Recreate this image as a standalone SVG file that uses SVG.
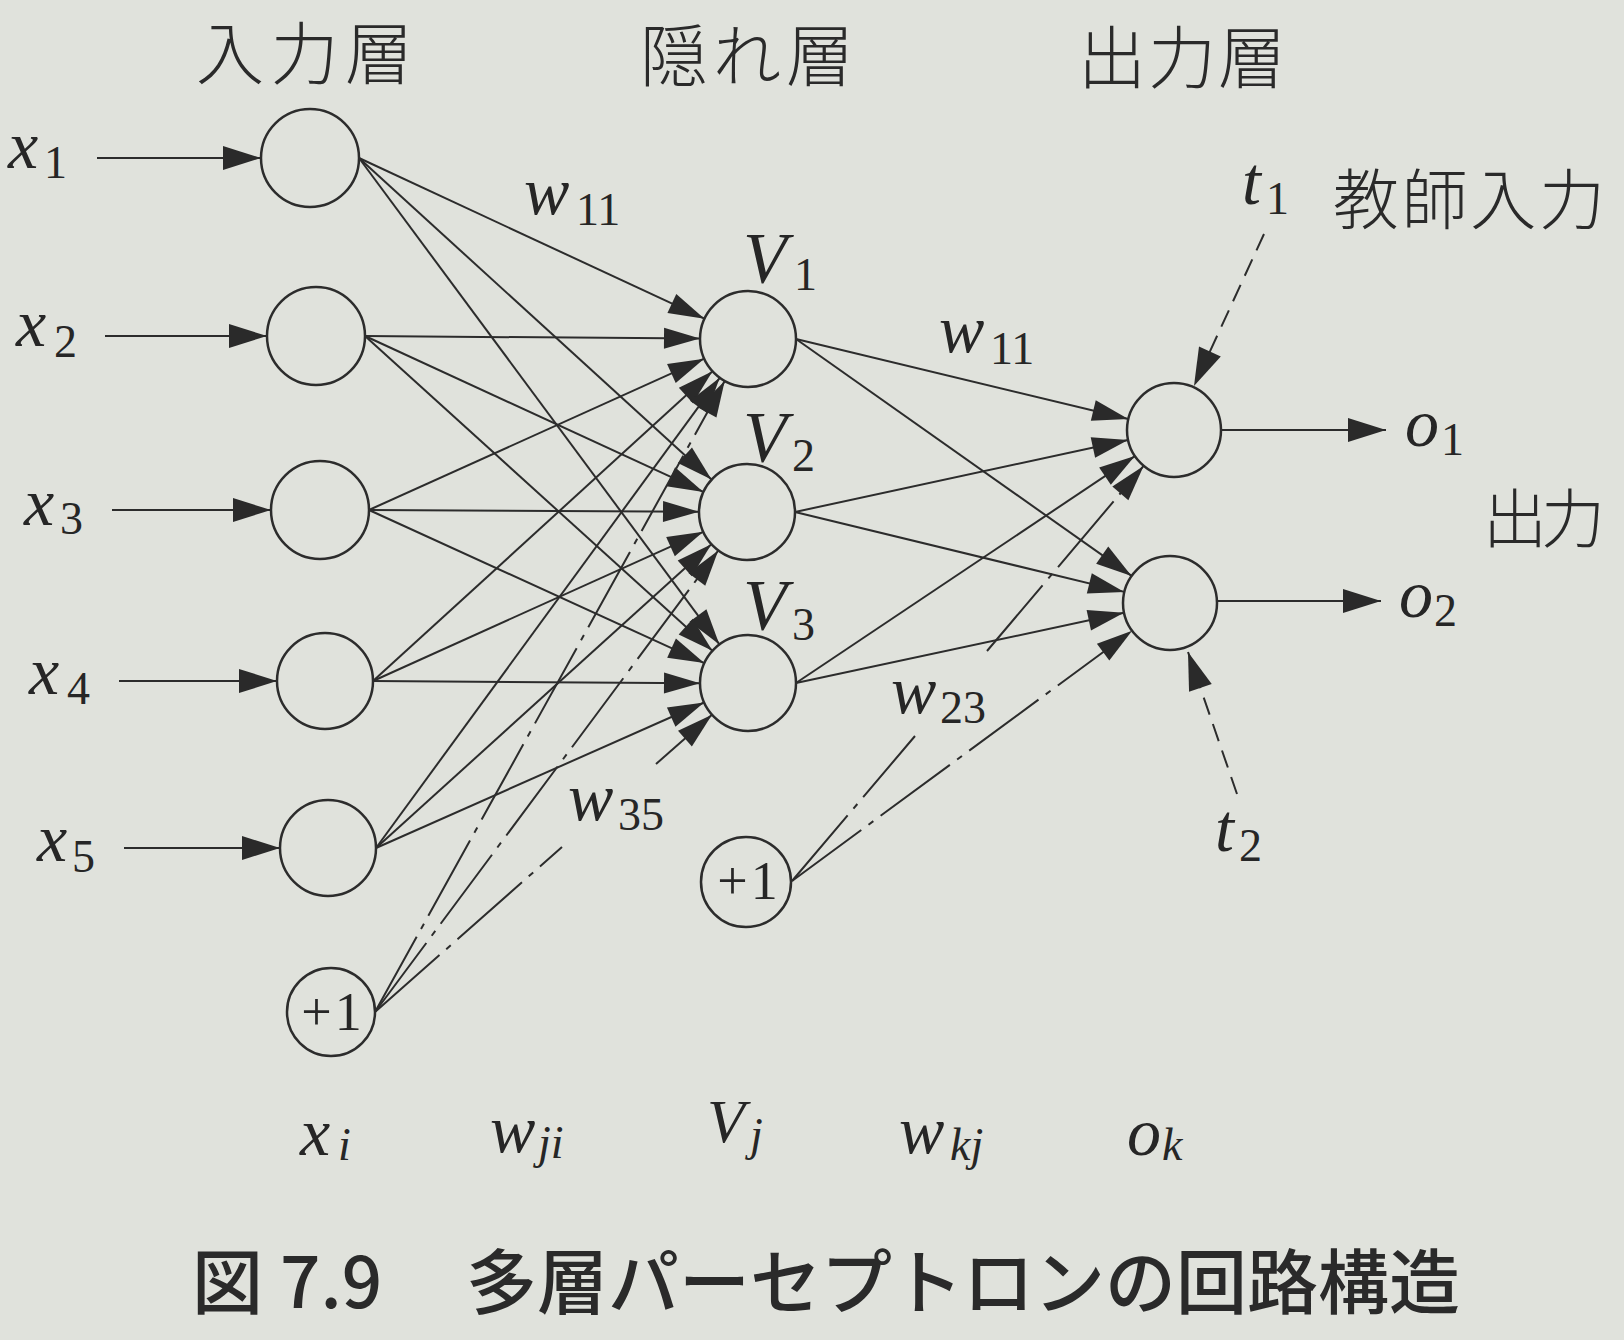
<svg xmlns="http://www.w3.org/2000/svg" width="1624" height="1340" viewBox="0 0 1624 1340">
<style>
.bg{fill:#e0e2dc}
.node{fill:none;stroke:#2c2c2c;stroke-width:2.5}
.e{fill:none;stroke:#2c2c2c;stroke-width:2}
.dd{stroke-dasharray:86 9 6 9}
.ds{stroke-dasharray:18 10}
.m{font-family:"Liberation Serif","DejaVu Serif",serif;font-style:italic;font-size:68px;fill:#262626}
.big{font-size:72px}
.mid{font-size:62px}
.s{font-style:normal;font-size:46px}
.si{font-style:italic;font-size:46px}
.jp{font-family:"Noto Sans CJK JP","Noto Sans",sans-serif;font-weight:300;fill:#2a2a2a}
.cap{font-family:"Noto Sans CJK JP","Noto Sans",sans-serif;font-weight:500;font-size:71px;fill:#2a2a2a}
.one{font-family:"Liberation Serif",serif;font-size:54px;fill:#262626;text-anchor:middle;letter-spacing:3px}
</style>
<defs>
<marker id="ah" markerUnits="userSpaceOnUse" markerWidth="40" markerHeight="24" refX="36" refY="10.5" orient="auto" overflow="visible"><path d="M0,0 L36,10.5 L0,21 Z" fill="#2a2a2a"/></marker>
<marker id="aw" markerUnits="userSpaceOnUse" markerWidth="40" markerHeight="26" refX="38" refY="12" orient="auto" overflow="visible"><path d="M0,0 L38,12 L0,24 Z" fill="#2a2a2a"/></marker>
</defs>
<rect class="bg" x="0" y="0" width="1624" height="1340"/>

<g id="connectors">
<path class="e" marker-end="url(#aw)" d="M97,158 H261"/>
<path class="e" marker-end="url(#aw)" d="M105,336 H267"/>
<path class="e" marker-end="url(#aw)" d="M112,510 H271"/>
<path class="e" marker-end="url(#aw)" d="M119,681 H277"/>
<path class="e" marker-end="url(#aw)" d="M124,848 H280"/>

<path class="e" marker-end="url(#ah)" d="M359,158 L704.5,318.7"/>
<path class="e" marker-end="url(#ah)" d="M359,158 L711.5,479.6"/>
<path class="e" marker-end="url(#ah)" d="M359,158 L719.4,644.4"/>
<path class="e" marker-end="url(#ah)" d="M365,336 L700,338.6"/>
<path class="e" marker-end="url(#ah)" d="M365,336 L703.4,491.9"/>
<path class="e" marker-end="url(#ah)" d="M365,336 L712.4,650.8"/>
<path class="e" marker-end="url(#ah)" d="M369,510 L704.2,358.7"/>
<path class="e" marker-end="url(#ah)" d="M369,510 L699,511.7"/>
<path class="e" marker-end="url(#ah)" d="M369,510 L704.3,663.1"/>
<path class="e" marker-end="url(#ah)" d="M373,681 L712.5,371.3"/>
<path class="e" marker-end="url(#ah)" d="M373,681 L703.3,531.8"/>
<path class="e" marker-end="url(#ah)" d="M373,681 L700,683.3"/>
<path class="e" marker-end="url(#ah)" d="M376,848 L719.7,377.8"/>
<path class="e" marker-end="url(#ah)" d="M376,848 L711.4,544.2"/>
<path class="e" marker-end="url(#ah)" d="M376,848 L704.1,702.5"/>

<path class="e dd" marker-end="url(#ah)" d="M375,1012 L724.7,381"/>
<path class="e dd" marker-end="url(#ah)" d="M375,1012 L718.3,550.5"/>
<path class="e dd" d="M375,1012 L562,847"/>
<path class="e dd" marker-end="url(#ah)" d="M656,764 L712,714.8"/>

<path class="e" marker-end="url(#ah)" d="M796,339 L1128.3,419"/>
<path class="e" marker-end="url(#ah)" d="M796,339 L1131.6,575.9"/>
<path class="e" marker-end="url(#ah)" d="M795,512 L1128.1,439.9"/>
<path class="e" marker-end="url(#ah)" d="M795,512 L1124.3,591.9"/>
<path class="e" marker-end="url(#ah)" d="M796,683 L1134.9,456.1"/>
<path class="e" marker-end="url(#ah)" d="M796,683 L1124,612.8"/>

<path class="e dd" d="M792,881 L915,736"/>
<path class="e dd" marker-end="url(#ah)" d="M987,651 L1143.6,465.9"/>
<path class="e dd" marker-end="url(#ah)" d="M792,881 L1132.1,630.8"/>

<path class="e" marker-end="url(#aw)" d="M1221,430 H1386"/>
<path class="e" marker-end="url(#aw)" d="M1217,601 H1381"/>

<path class="e ds" marker-end="url(#aw)" d="M1264,234 L1194,386"/>
<path class="e ds" marker-end="url(#aw)" d="M1237,794 L1188,652"/>
</g>

<g id="in1"><circle class="node" cx="310" cy="158" r="49"/></g>
<g id="in2"><circle class="node" cx="316" cy="336" r="49"/></g>
<g id="in3"><circle class="node" cx="320" cy="510" r="49"/></g>
<g id="in4"><circle class="node" cx="325" cy="681" r="48"/></g>
<g id="in5"><circle class="node" cx="328" cy="848" r="48"/></g>
<g id="inBias"><circle class="node" cx="331" cy="1012" r="44"/><text class="one" x="333" y="1030">+1</text></g>

<g id="h1"><circle class="node" cx="748" cy="339" r="48"/></g>
<g id="h2"><circle class="node" cx="747" cy="512" r="48"/></g>
<g id="h3"><circle class="node" cx="748" cy="683" r="48"/></g>
<g id="hBias"><circle class="node" cx="746" cy="882" r="45"/><text class="one" x="749" y="899">+1</text></g>

<g id="o1"><circle class="node" cx="1174" cy="430" r="47"/></g>
<g id="o2"><circle class="node" cx="1170" cy="603" r="47"/></g>

<g id="labels">
<text class="jp" x="196" y="79" font-size="68" textLength="217">入力層</text>
<text class="jp" x="640" y="81" font-size="68" textLength="214">隠れ層</text>
<text class="jp" x="1078" y="83" font-size="68" textLength="208">出力層</text>
<text class="jp" x="1333" y="224" font-size="66" textLength="272">教師入力</text>
<text class="jp" x="1483" y="542" font-size="64" textLength="122">出力</text>

<text class="m" x="8" y="168">x<tspan class="s" x="44" y="178">1</tspan></text>
<text class="m" x="16" y="346">x<tspan class="s" x="54" y="357">2</tspan></text>
<text class="m" x="24" y="525">x<tspan class="s" x="60" y="534">3</tspan></text>
<text class="m" x="29" y="694">x<tspan class="s" x="67" y="704">4</tspan></text>
<text class="m" x="37" y="861">x<tspan class="s" x="72" y="872">5</tspan></text>

<text class="m" x="524" y="214">w<tspan class="s" x="576" y="225">11</tspan></text>
<text class="m big" x="743" y="282">V<tspan class="s" x="794" y="290">1</tspan></text>
<text class="m big" x="743" y="461">V<tspan class="s" x="792" y="471">2</tspan></text>
<text class="m big" x="743" y="629">V<tspan class="s" x="792" y="640">3</tspan></text>
<text class="m" x="939" y="352">w<tspan class="s" x="990" y="364">11</tspan></text>
<text class="m" x="891" y="713">w<tspan class="s" x="940" y="723">23</tspan></text>
<text class="m" x="568" y="820">w<tspan class="s" x="618" y="830">35</tspan></text>
<text class="m" x="1405" y="446">o<tspan class="s" x="1441" y="455">1</tspan></text>
<text class="m" x="1399" y="617">o<tspan class="s" x="1434" y="626">2</tspan></text>
<text class="m" x="1242" y="204">t<tspan class="s" x="1266" y="214">1</tspan></text>
<text class="m" x="1215" y="851">t<tspan class="s" x="1239" y="861">2</tspan></text>

<text class="m" x="300" y="1155">x<tspan class="si" x="338" y="1160">i</tspan></text>
<text class="m" x="490" y="1152">w<tspan class="si" x="538" y="1158">ji</tspan></text>
<text class="m mid" x="707" y="1142">V<tspan class="si" x="750" y="1150">j</tspan></text>
<text class="m" x="899" y="1153">w<tspan class="si" x="950" y="1160">kj</tspan></text>
<text class="m" x="1127" y="1155">o<tspan class="si" x="1162" y="1160">k</tspan></text>

<text class="cap" y="1308"><tspan x="192">図</tspan> <tspan x="280">7.9</tspan>　<tspan x="466" textLength="994">多層パーセプトロンの回路構造</tspan></text>
</g>
</svg>
